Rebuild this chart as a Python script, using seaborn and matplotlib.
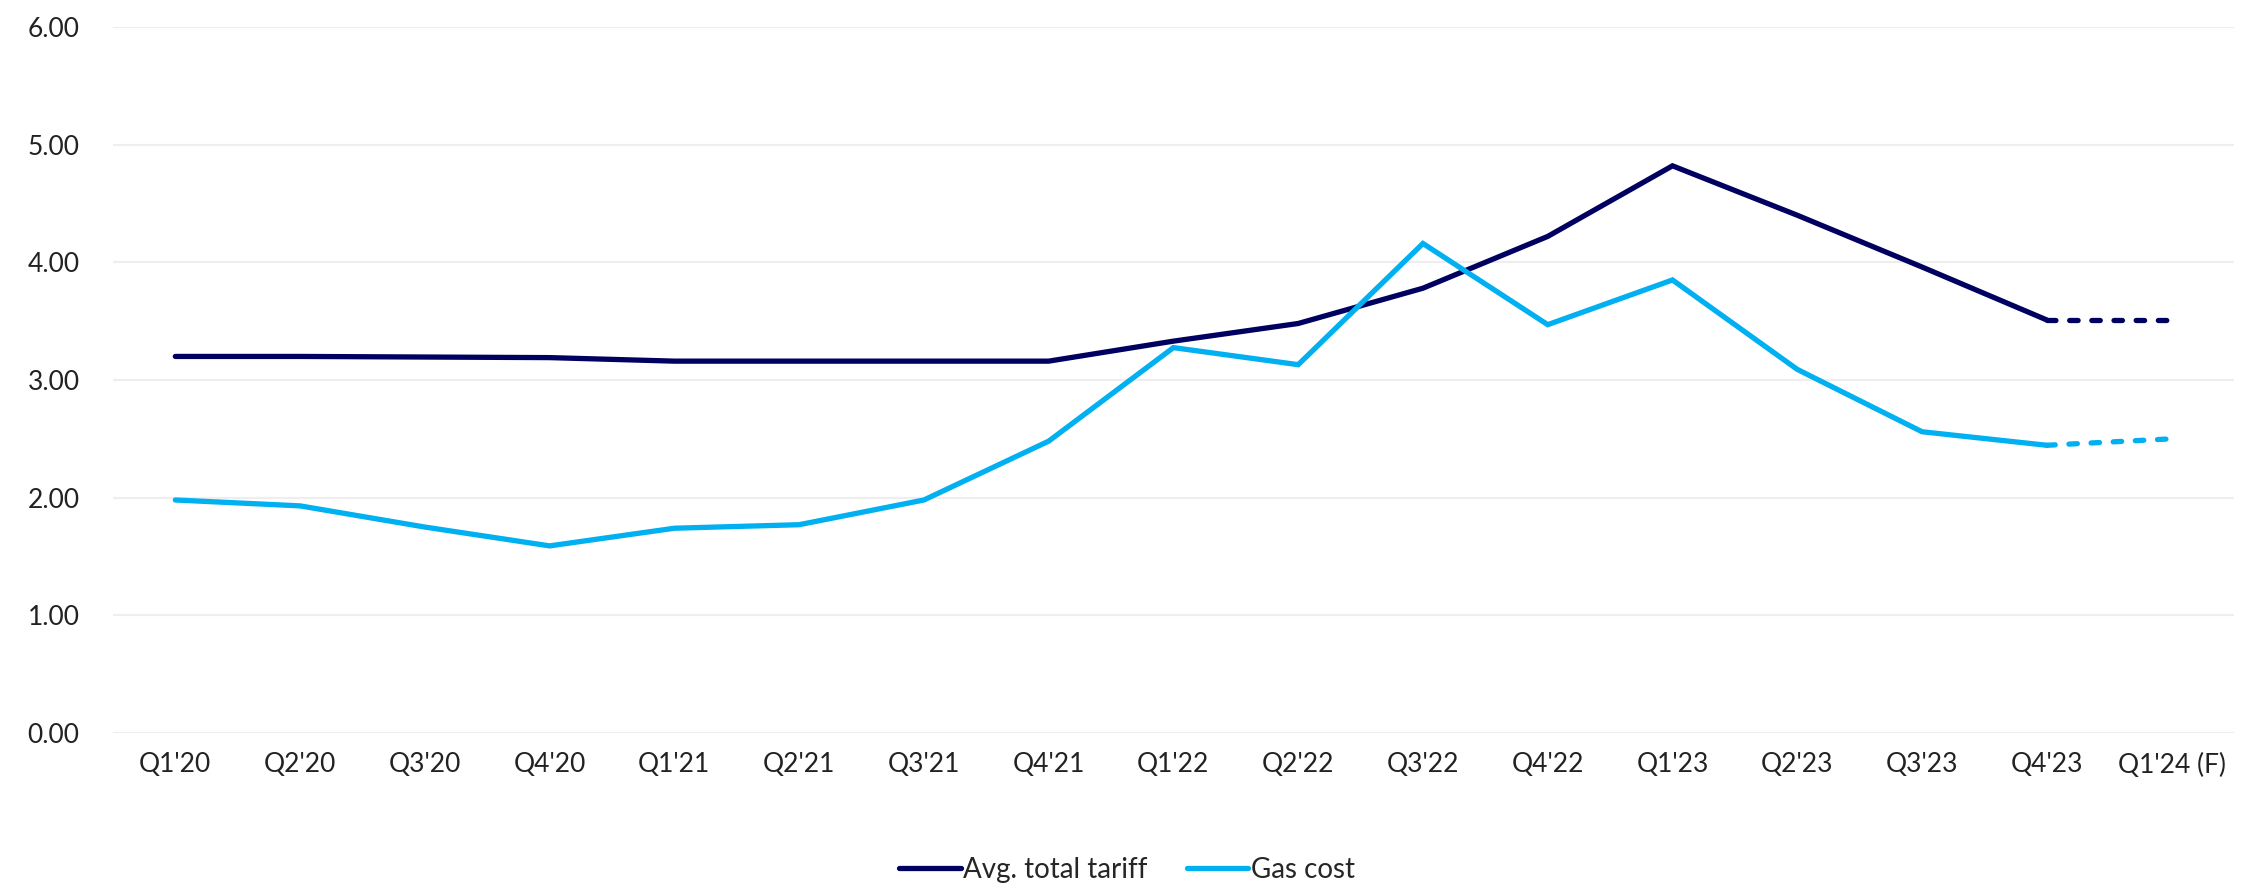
import numpy as np
import pandas as pd
import matplotlib
matplotlib.use('Agg')
import matplotlib.pyplot as plt
import seaborn as sns

# ── Data ──────────────────────────────────────────────────────────────────────
quarters = ["Q1'20", "Q2'20", "Q3'20", "Q4'20", "Q1'21", "Q2'21", "Q3'21", "Q4'21",
            "Q1'22", "Q2'22", "Q3'22", "Q4'22", "Q1'23", "Q2'23", "Q3'23", "Q4'23",
            "Q1'24 (F)"]
avg_tariff = [3.20, 3.20, 3.195, 3.19, 3.16, 3.16, 3.16, 3.16,
              3.33, 3.48, 3.78, 4.22, 4.82, 4.40, 3.96, 3.51, 3.51]
gas_cost = [1.98, 1.93, 1.75, 1.59, 1.74, 1.77, 1.98, 2.48,
            3.275, 3.13, 4.16, 3.47, 3.85, 3.09, 2.56, 2.445, 2.50]
n_actual = 16  # last point is the forecast

# ── Style ─────────────────────────────────────────────────────────────────────
sns.set_theme(style='white')
plt.rcParams['font.family'] = ['Lato', 'DejaVu Sans']

NAVY = '#000060'
CYAN = '#00B0F0'

df = pd.DataFrame({'pos': np.arange(len(quarters)), 'quarter': quarters,
                   'tariff': avg_tariff, 'gas': gas_cost})
actual = df.iloc[:n_actual]
fcst = df.iloc[n_actual - 1:]

fig = plt.figure(figsize=(22.54, 8.93), dpi=100)
ax = fig.add_axes([0.0501, 0.1792, 0.9410, 0.7906])

for col, color, label in [('tariff', NAVY, 'Avg. total tariff'), ('gas', CYAN, 'Gas cost')]:
    sns.lineplot(data=actual, x='pos', y=col, color=color, lw=3.8, ax=ax,
                 label=label, solid_capstyle='round', solid_joinstyle='miter')
    sns.lineplot(data=fcst, x='pos', y=col, color=color, lw=3.8, ax=ax,
                 linestyle=(0, (1.6, 2.6)), dash_capstyle='round')

# ── Axes ──────────────────────────────────────────────────────────────────────
ax.set_xlim(-0.5, len(quarters) - 0.5)
ax.set_ylim(0, 6)
ax.set_yticks(np.arange(0, 7, 1))
ax.set_yticklabels([f'{v:.2f}' for v in np.arange(0, 7, 1)])
ax.set_xticks(df['pos'])
ax.set_xticklabels(quarters)
ax.tick_params(axis='y', labelsize=19, pad=24, length=0, colors='#222222')
ax.tick_params(axis='x', labelsize=19, pad=14, length=0, colors='#222222')
ax.set_xlabel('')
ax.set_ylabel('')
ax.yaxis.grid(True, color='#EEEEEE', lw=1.6)
ax.xaxis.grid(False)
ax.set_axisbelow(True)
for s in ax.spines.values():
    s.set_visible(False)
ax.axhline(0, color='#D9D9D9', lw=2, zorder=0.5)

# legend (solid series only)
handles, labels = ax.get_legend_handles_labels()
ax.legend(handles[:2], labels[:2], loc='center', bbox_to_anchor=(0.5, 0.026),
          bbox_transform=fig.transFigure, ncol=2, frameon=False, fontsize=20,
          handlelength=2.2, handletextpad=0.1, columnspacing=1.4)

plt.savefig('out.png', dpi=100)
plt.close()
